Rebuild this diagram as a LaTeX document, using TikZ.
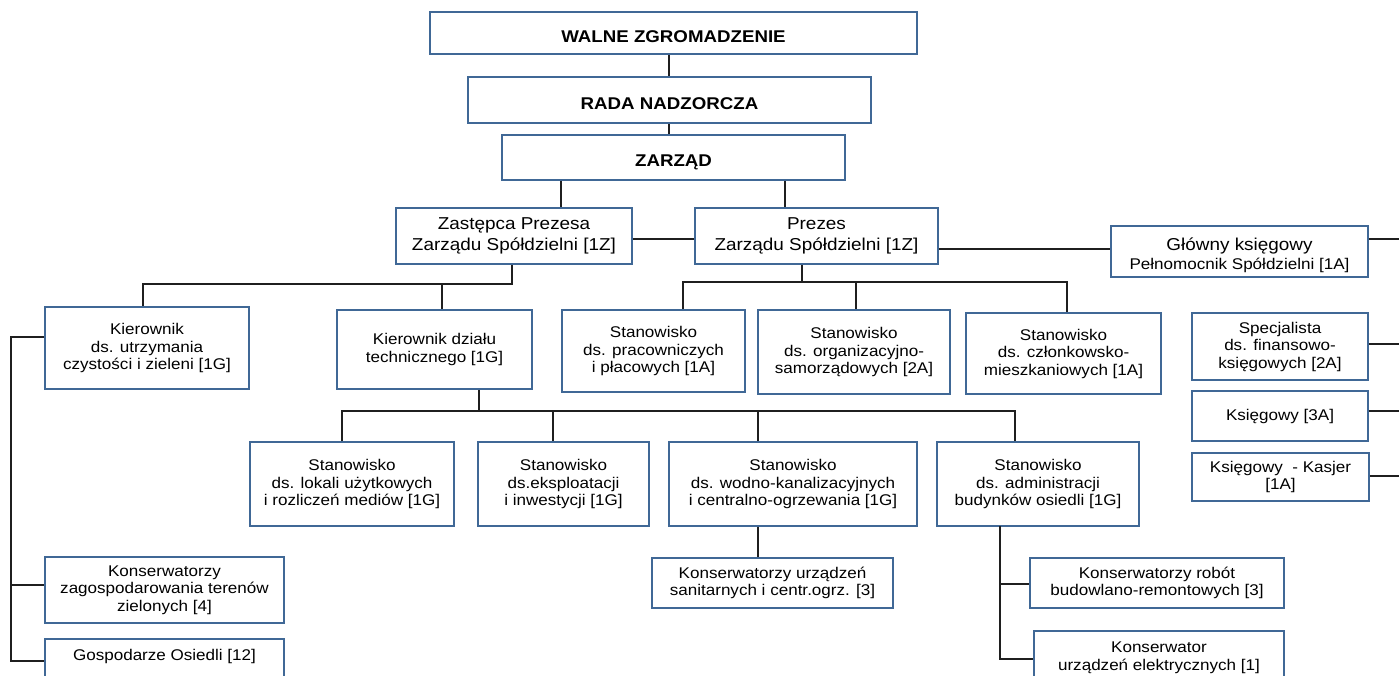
\documentclass[tikz,border=0pt]{standalone}
\usepackage{fontspec}
\setmainfont[FakeStretch=1.1]{Liberation Sans}
\newcommand{\myBody}{\fontsize{15.5}{17.5}\selectfont}
\newcommand{\myBig}{\fontsize{17.2}{20.5}\selectfont}
\newcommand{\myTitle}{\fontsize{17}{20}\selectfont\bfseries}
\definecolor{boxblue}{RGB}{64,104,150}
\newcommand{\boxat}[7][]{%
  \node[box,#1,minimum width={(#5)-(#3)},minimum height={(#6)-(#4)}] (#2) at ({((#3)+(#5))/2},{((#4)+(#6))/2}) {#7};}
\begin{document}
\begin{tikzpicture}[x=1pt,y=-1pt,
  box/.style={draw=boxblue,line width=1.8pt,fill=white,inner sep=0pt,align=center,font=\myBody},
  big/.style={font=\myBig},
  ttl/.style={font=\myTitle,text height=18pt,text depth=0pt},
  conn/.style={line width=1.9pt,draw=black!88}]
\useasboundingbox (0,0) rectangle (1399,675);
\clip (0,0) rectangle (1399,675);
% top
\boxat[ttl]{walne}{430}{12}{917}{54}{WALNE ZGROMADZENIE}
\boxat[ttl]{rada}{468}{77}{871}{123}{RADA NADZORCZA}
\boxat[ttl]{zarzad}{502}{135}{845}{180}{ZARZĄD}
\boxat[big]{zastepca}{396}{208}{632}{264}{Zastępca Prezesa\\Zarządu Spółdzielni [1Z]}
\boxat[big]{prezes}{695}{208}{938}{264}{Prezes\\Zarządu Spółdzielni [1Z]}
\boxat[font=\fontsize{17.2}{18.5}\selectfont,text height=39pt,text depth=3.3pt]{glowny}{1111}{226}{1368}{277}{Główny księgowy\\{\myBody Pełnomocnik Spółdzielni [1A]}}
% second row
\boxat{kutrz}{45}{307}{249}{389}{Kierownik\\ds. utrzymania\\czystości i zieleni [1G]}
\boxat{ktech}{337}{310}{532}{389}{Kierownik działu\\technicznego [1G]}
\boxat{sprac}{562}{310}{745}{392}{Stanowisko\\ds. pracowniczych\\i płacowych [1A]}
\boxat{sorg}{758}{310}{950}{394}{Stanowisko\\ds. organizacyjno-\\samorządowych [2A]}
\boxat{sczl}{966}{313}{1161}{394}{Stanowisko\\ds. członkowsko-\\mieszkaniowych [1A]}
\boxat{spec}{1192}{313}{1368}{380}{Specjalista\\ds. finansowo-\\księgowych [2A]}
\boxat{ksieg}{1192}{391}{1368}{441}{Księgowy [3A]}
\boxat{kasjer}{1192}{453}{1369}{501}{Księgowy~~- Kasjer\\{}[1A]}
% third row
\boxat{slok}{250}{442}{454}{526}{Stanowisko\\ds. lokali użytkowych\\i rozliczeń mediów [1G]}
\boxat{seks}{478}{442}{649}{526}{Stanowisko\\ds.eksploatacji\\i inwestycji [1G]}
\boxat{swod}{669}{442}{917}{526}{Stanowisko\\ds. wodno-kanalizacyjnych\\i centralno-ogrzewania [1G]}
\boxat{sadm}{937}{442}{1139}{526}{Stanowisko\\ds. administracji\\budynków osiedli [1G]}
% bottom
\boxat{kzag}{45}{557}{284}{623}{Konserwatorzy\\zagospodarowania terenów\\zielonych [4]}
\boxat{gosp}{45}{639}{284}{689}{Gospodarze Osiedli [12]\\\mbox{}}
\boxat{ksan}{652}{558}{893}{608}{Konserwatorzy urządzeń\\sanitarnych i centr.ogrz. [3]}
\boxat{krob}{1030}{558}{1284}{608}{Konserwatorzy robót\\budowlano-remontowych [3]}
\boxat{kel}{1034}{631}{1284}{699}{Konserwator\\urządzeń elektrycznych [1]\\\mbox{}}
% coordinates
\coordinate (xt) at (669,0);
\coordinate (xa) at (561,0);
\coordinate (xb) at (785,0);
\coordinate (ya) at (0,239);
\coordinate (yg) at (0,249);
\coordinate (ys) at (0,344);
\coordinate (yk) at (0,411);
\coordinate (yj) at (0,476);
\coordinate (R) at (1399,0);
\coordinate (b1) at (512,284);
\coordinate (b1l) at (143,284);
\coordinate (b1r) at (442,284);
\coordinate (b2) at (802,282);
\coordinate (b2l) at (683,282);
\coordinate (b2m) at (856,282);
\coordinate (b2r) at (1067,282);
\coordinate (b3) at (479,411);
\coordinate (b3a) at (342,411);
\coordinate (b3b) at (553,411);
\coordinate (b3c) at (758,411);
\coordinate (b3d) at (1015,411);
\coordinate (ls) at (11,337);
\coordinate (lm) at (11,585);
\coordinate (le) at (11,661);
\coordinate (rs) at (1000,526);
\coordinate (rm) at (1000,584);
\coordinate (re) at (1000,659);
% connectors
\draw[conn] (walne.south -| xt) -- (rada.north -| xt);
\draw[conn] (rada.south -| xt) -- (zarzad.north -| xt);
\draw[conn] (zarzad.south -| xa) -- (zastepca.north -| xa);
\draw[conn] (zarzad.south -| xb) -- (prezes.north -| xb);
\draw[conn] (zastepca.east |- ya) -- (prezes.west |- ya);
\draw[conn] (prezes.east |- yg) -- (glowny.west |- yg);
\draw[conn] (glowny.east |- ya) -- (R |- ya);
\draw[conn] (spec.east |- ys) -- (R |- ys);
\draw[conn] (ksieg.east |- yk) -- (R |- yk);
\draw[conn] (kasjer.east |- yj) -- (R |- yj);
% zastepca branch
\draw[conn] (zastepca.south -| b1) -- (b1) -- (b1l) -- (kutrz.north -| b1l);
\draw[conn] (b1r) -- (ktech.north -| b1r);
% prezes branch
\draw[conn] (prezes.south -| b2) -- (b2);
\draw[conn] (sprac.north -| b2l) -- (b2l) -- (b2r) -- (sczl.north -| b2r);
\draw[conn] (b2m) -- (sorg.north -| b2m);
% technical branch
\draw[conn] (ktech.south -| b3) -- (b3);
\draw[conn] (slok.north -| b3a) -- (b3a) -- (b3d) -- (sadm.north -| b3d);
\draw[conn] (b3b) -- (seks.north -| b3b);
\draw[conn] (b3c) -- (swod.north -| b3c);
\draw[conn] (swod.south -| b3c) -- (ksan.north -| b3c);
% left rail
\draw[conn] (kutrz.west |- ls) -- (ls) -- (le) -- (gosp.west |- le);
\draw[conn] (lm) -- (kzag.west |- lm);
% admin rail
\draw[conn] (rs) -- (re) -- (kel.west |- re);
\draw[conn] (rm) -- (krob.west |- rm);
\end{tikzpicture}
\end{document}
